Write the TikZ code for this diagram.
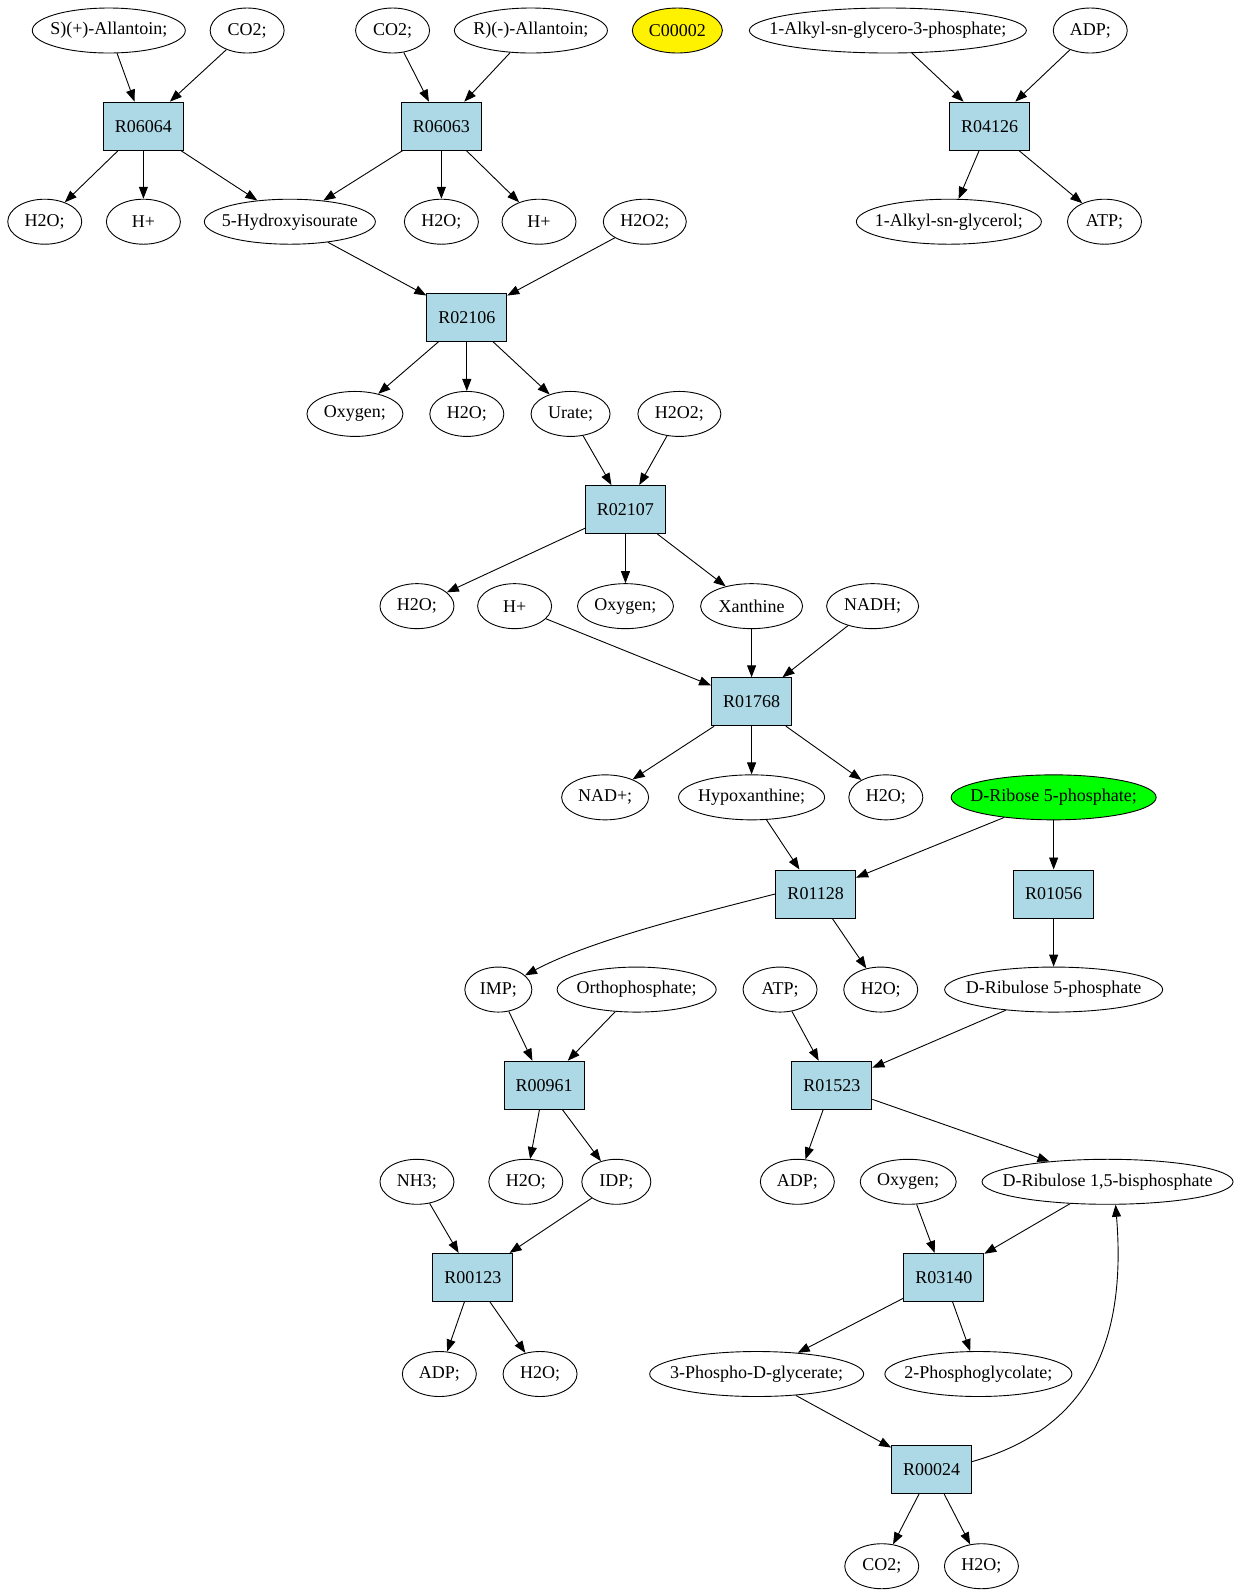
\documentclass[tikz,border=0pt]{standalone}
\usepackage{fontspec}
\setmainfont{Liberation Serif}
\usepackage{tikz}
\usetikzlibrary{arrows.meta}
\usetikzlibrary{shapes.geometric}
\definecolor{rxnblue}{RGB}{173,216,230}
\definecolor{cpdgreen}{RGB}{0,255,0}
\tikzset{cpd/.style = {draw, ellipse, inner sep = 0pt, minimum width = #1, minimum height = 45pt,
    execute at begin node = {\hbox to 0pt\bgroup\hss}, execute at end node = {\hss\egroup}},
  cpd/.default = 74pt}
\tikzset{rxn/.style = {draw, fill = rxnblue, rectangle, inner sep = 0pt, minimum width = 80pt, minimum height = 48pt}}
\tikzset{>={Triangle[length=12pt,width=9pt]}}

\begin{document}
\begin{tikzpicture}[x=1.017pt, y=-1.017pt, line width=0.9pt, font=\fontsize{18}{21}\selectfont]
        \useasboundingbox (0,0) rectangle (1220.3,1568.3);
        % top row
        \node [cpd=153pt] (sall) at (107,30) {S)(+)-Allantoin;};
        \node [cpd] (co2a) at (243,30) {CO2;};
        \node [cpd] (co2b) at (386,30) {CO2;};
        \node [cpd=153pt] (rall) at (522,30) {R)(-)-Allantoin;};
        \node [cpd=90pt, fill=yellow] (c2) at (666,30) {C00002};
        \node [cpd=277pt] (algp) at (873,30) {1-Alkyl-sn-glycero-3-phosphate;};
        \node [cpd] (adpa) at (1072,30) {ADP;};
        \node [rxn] (R06064) at (141,124) {R06064};
        \node [rxn] (R06063) at (434,124) {R06063};
        \node [rxn] (R04126) at (973,124) {R04126};
        \node [cpd] (h2oa) at (44,218) {H2O;};
        \node [cpd] (hpa) at (141,218) {H+};
        \node [cpd=171pt] (hyd) at (285,218) {5-Hydroxyisourate};
        \node [cpd] (h2ob) at (434,218) {H2O;};
        \node [cpd] (hpb) at (530,218) {H+};
        \node [cpd=83pt] (hpoa) at (634,218) {H2O2;};
        \node [cpd=185pt] (alg) at (933,218) {1-Alkyl-sn-glycerol;};
        \node [cpd] (atpa) at (1086,218) {ATP;};
        % urate branch
        \node [rxn] (R02106) at (459,312) {R02106};
        \node [cpd=96pt] (oxya) at (349,407) {Oxygen;};
        \node [cpd] (h2oc) at (459,407) {H2O;};
        \node [cpd=79pt] (urate) at (561,407) {Urate;};
        \node [cpd=83pt] (hpob) at (668,407) {H2O2;};
        \node [rxn] (R02107) at (615,501) {R02107};
        \node [cpd] (h2od) at (410,596) {H2O;};
        \node [cpd] (hpc) at (506,596) {H+};
        \node [cpd=96pt] (oxyb) at (615,596) {Oxygen;};
        \node [cpd=102pt] (xan) at (739,596) {Xanthine};
        \node [cpd=92pt] (nadh) at (858,596) {NADH;};
        \node [rxn] (R01768) at (739,690) {R01768};
        \node [cpd=87pt] (nad) at (595,784) {NAD+;};
        \node [cpd=146pt] (hypx) at (739,784) {Hypoxanthine;};
        \node [cpd] (h2oe) at (871,784) {H2O;};
        \node [cpd=205pt, fill=cpdgreen] (r5p) at (1036,784) {D-Ribose 5-phosphate;};
        \node [rxn] (R01128) at (802,879) {R01128};
        \node [rxn] (R01056) at (1036,879) {R01056};
        \node [cpd=67pt] (imp) at (490,973) {IMP;};
        \node [cpd=159pt] (orth) at (626,973) {Orthophosphate;};
        \node [cpd] (atpb) at (767,973) {ATP;};
        \node [cpd] (h2of) at (866,973) {H2O;};
        \node [cpd=218pt] (ru5p) at (1036,973) {D-Ribulose 5-phosphate};
        \node [rxn] (R00961) at (535,1067) {R00961};
        \node [rxn] (R01523) at (818,1067) {R01523};
        \node [cpd] (nh3) at (410,1162) {NH3;};
        \node [cpd] (h2og) at (517,1162) {H2O;};
        \node [cpd=69pt] (idp) at (606,1162) {IDP;};
        \node [cpd] (adpb) at (784,1162) {ADP;};
        \node [cpd=96pt] (oxyc) at (893,1162) {Oxygen;};
        \node [cpd=251pt] (rubp) at (1089,1162) {D-Ribulose 1,5-bisphosphate};
        \node [rxn] (R00123) at (465,1256) {R00123};
        \node [rxn] (R03140) at (928,1256) {R03140};
        \node [cpd] (adpc) at (432,1351) {ADP;};
        \node [cpd] (h2oh) at (531,1351) {H2O;};
        \node [cpd=214pt] (pga) at (744,1351) {3-Phospho-D-glycerate;};
        \node [cpd=187pt] (pgly) at (962,1351) {2-Phosphoglycolate;};
        \node [rxn] (R00024) at (916,1445) {R00024};
        \node [cpd] (co2c) at (867,1540) {CO2;};
        \node [cpd] (h2oi) at (965,1540) {H2O;};
        % reactions
        \draw [->] (sall) -- (R06064);
        \draw [->] (co2a) -- (R06064);
        \draw [->] (R06064) -- (h2oa);
        \draw [->] (R06064) -- (hpa);
        \draw [->] (R06064) -- (hyd);
        \draw [->] (co2b) -- (R06063);
        \draw [->] (rall) -- (R06063);
        \draw [->] (R06063) -- (hyd);
        \draw [->] (R06063) -- (h2ob);
        \draw [->] (R06063) -- (hpb);
        \draw [->] (algp) -- (R04126);
        \draw [->] (adpa) -- (R04126);
        \draw [->] (R04126) -- (alg);
        \draw [->] (R04126) -- (atpa);
        \draw [->] (hyd) -- (R02106);
        \draw [->] (hpoa) -- (R02106);
        \draw [->] (R02106) -- (oxya);
        \draw [->] (R02106) -- (h2oc);
        \draw [->] (R02106) -- (urate);
        \draw [->] (urate) -- (R02107);
        \draw [->] (hpob) -- (R02107);
        \draw [->] (R02107) -- (h2od);
        \draw [->] (R02107) -- (oxyb);
        \draw [->] (R02107) -- (xan);
        \draw [->] (hpc) -- (R01768);
        \draw [->] (xan) -- (R01768);
        \draw [->] (nadh) -- (R01768);
        \draw [->] (R01768) -- (nad);
        \draw [->] (R01768) -- (hypx);
        \draw [->] (R01768) -- (h2oe);
        \draw [->] (hypx) -- (R01128);
        \draw [->] (r5p) -- (R01128);
        \draw [->] (r5p) -- (R01056);
        \draw [->] (R01128.west) .. controls (680,900) and (580,925) .. (imp);
        \draw [->] (R01128) -- (h2of);
        \draw [->] (R01056) -- (ru5p);
        \draw [->] (imp) -- (R00961);
        \draw [->] (orth) -- (R00961);
        \draw [->] (R00961) -- (h2og);
        \draw [->] (R00961) -- (idp);
        \draw [->] (atpb) -- (R01523);
        \draw [->] (ru5p) -- (R01523);
        \draw [->] (R01523) -- (adpb);
        \draw [->] (R01523) -- (rubp);
        \draw [->] (nh3) -- (R00123);
        \draw [->] (idp) -- (R00123);
        \draw [->] (R00123) -- (adpc);
        \draw [->] (R00123) -- (h2oh);
        \draw [->] (oxyc) -- (R03140);
        \draw [->] (rubp) -- (R03140);
        \draw [->] (R03140) -- (pga);
        \draw [->] (R03140) -- (pgly);
        \draw [->] (pga) -- (R00024);
        \draw [->] (R00024) -- (co2c);
        \draw [->] (R00024) -- (h2oi);
        \draw [->] ([yshift=8pt]R00024.east) .. controls (1070,1405) and (1108,1320) .. ([xshift=8pt]rubp.south);
    \end{tikzpicture}
\end{document}
